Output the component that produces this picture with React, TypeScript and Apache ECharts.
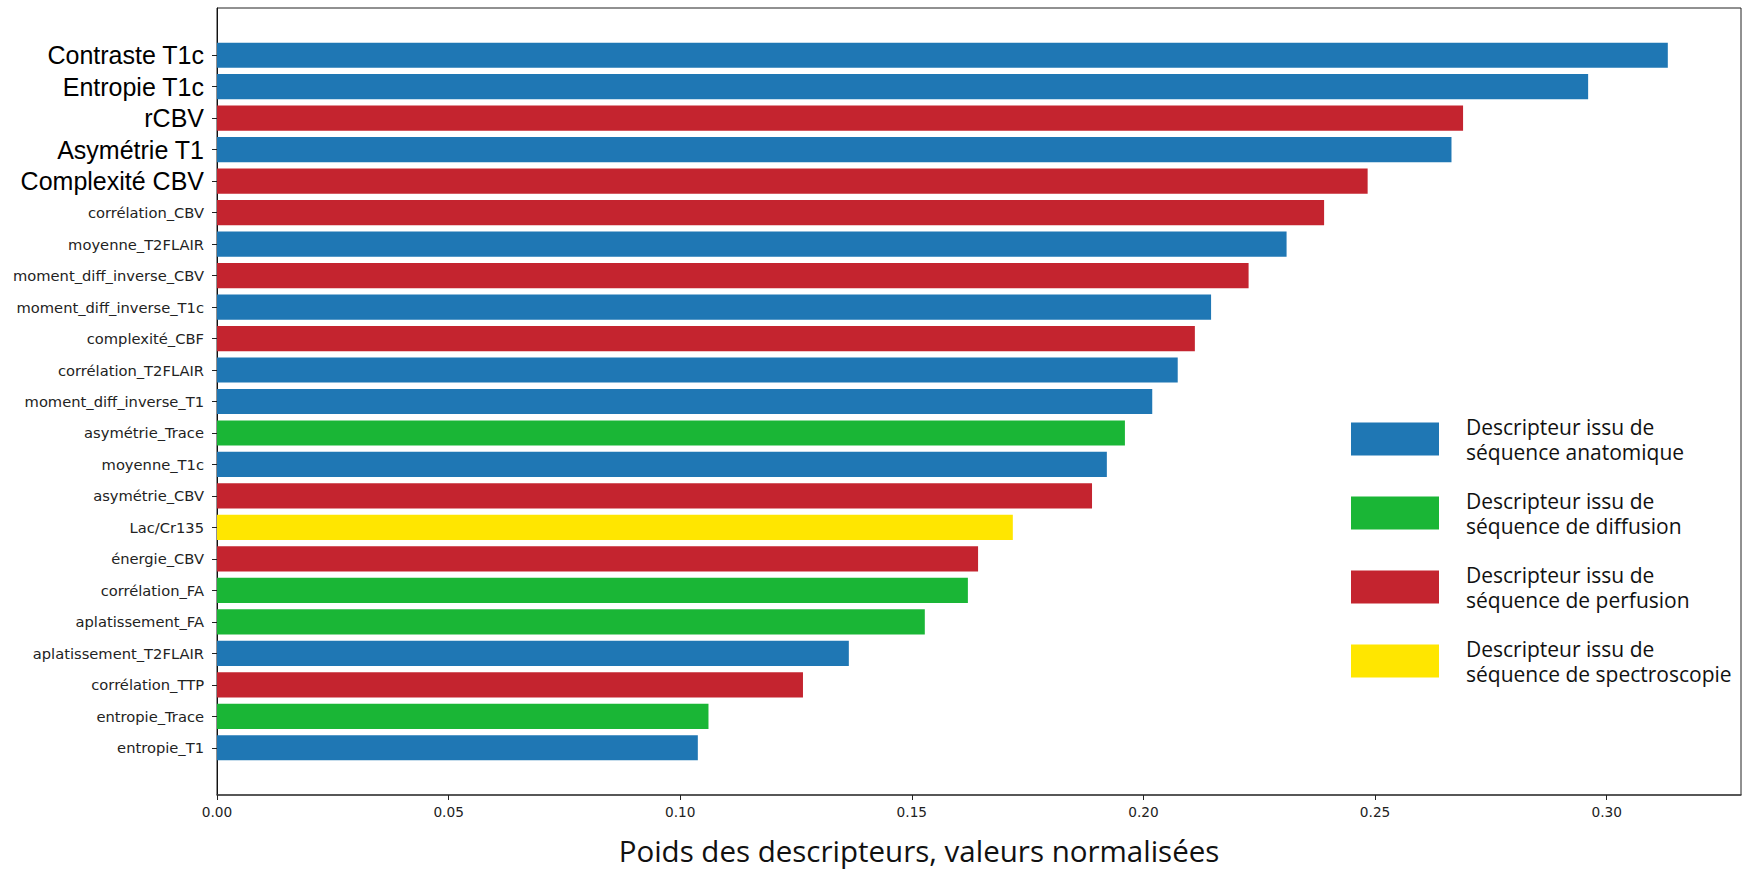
import React, { useEffect, useRef } from "react";
import * as echarts from "echarts";

const descriptors = [
  "Contraste T1c", "Entropie T1c", "rCBV", "Asymétrie T1", "Complexité CBV",
  "corrélation_CBV", "moyenne_T2FLAIR", "moment_diff_inverse_CBV", "moment_diff_inverse_T1c",
  "complexité_CBF", "corrélation_T2FLAIR", "moment_diff_inverse_T1", "asymétrie_Trace",
  "moyenne_T1c", "asymétrie_CBV", "Lac/Cr135", "énergie_CBV", "corrélation_FA",
  "aplatissement_FA", "aplatissement_T2FLAIR", "corrélation_TTP", "entropie_Trace", "entropie_T1",
];
const weights = [
  0.3132, 0.2960, 0.2690, 0.2665, 0.2484, 0.2390, 0.2309, 0.2227, 0.2146, 0.2111, 0.2074,
  0.2019, 0.1960, 0.1921, 0.1889, 0.1718, 0.1643, 0.1621, 0.1528, 0.1364, 0.1265, 0.1061, 0.1038,
];
const sequenceTypes = [
  "anat", "anat", "perf", "anat", "perf", "perf", "anat", "perf", "anat", "perf", "anat",
  "anat", "diff", "anat", "perf", "spec", "perf", "diff", "diff", "anat", "perf", "diff", "anat",
];
const highlightedCount = 5;
const groupKeys = ["anat", "diff", "perf", "spec"];
const groupNames = [
  "Descripteur issu de\nséquence anatomique",
  "Descripteur issu de\nséquence de diffusion",
  "Descripteur issu de\nséquence de perfusion",
  "Descripteur issu de\nséquence de spectroscopie",
];
const groupColors = ["#1f77b4", "#1ab636", "#c4242f", "#ffe600"];
const xTicks = [0, 0.05, 0.1, 0.15, 0.2, 0.25, 0.3];
const xTitle = "Poids des descripteurs, valeurs normalisées";

export default function App() {
  const ref = useRef<HTMLDivElement>(null);
  useEffect(() => {
    document.body.style.margin = "0";
    if (!ref.current) return;
    const chart = echarts.init(ref.current, undefined, { renderer: "svg" });
    const cats = [" ", ...descriptors, "  "];
    const isReal = (v: string) => v.trim() !== "";
    const series = groupKeys.map((k, gi) => ({
      name: groupNames[gi],
      type: "bar",
      barWidth: "80%",
      barGap: "-100%",
      itemStyle: { color: groupColors[gi] },
      data: [null, ...weights.map((w, i) => (sequenceTypes[i] === k ? w : null)), null],
    }));
    chart.setOption({
      animation: false,
      grid: { show: true, left: 217, right: 12, top: 8, bottom: 75, borderColor: "#222", borderWidth: 1 },
      xAxis: {
        type: "value",
        min: xTicks[0],
        max: 0.329,
        interval: 0.05,
        splitLine: { show: false },
        axisLine: { show: true, lineStyle: { color: "#444", width: 1.5 } },
        axisTick: { show: true, length: 5, lineStyle: { color: "#222" } },
        axisLabel: {
          showMaxLabel: false,
          margin: 10,
          fontSize: 13.7,
          color: "#222",
          fontFamily: "'DejaVu Sans', sans-serif",
          formatter: (v: number) => v.toFixed(2),
        },
      },
      yAxis: {
        type: "category",
        inverse: true,
        data: cats,
        axisLine: { show: true, lineStyle: { color: "#111" } },
        axisTick: {
          show: true,
          alignWithLabel: true,
          length: 5,
          lineStyle: { color: "#222" },
          interval: (_i: number, v: string) => isReal(v),
        },
        axisLabel: {
          margin: 13,
          interval: (_i: number, v: string) => isReal(v),
          formatter: (v: string, i: number) =>
            i >= 1 && i <= highlightedCount ? `{big|${v}}` : `{small|${v}}`,
          rich: {
            big: { fontFamily: "'Liberation Sans', Arial, sans-serif", fontSize: 25, color: "#000" },
            small: { fontFamily: "'DejaVu Sans', sans-serif", fontSize: 14.7, color: "#222" },
          },
        },
      },
      legend: {
        orient: "vertical",
        left: 1346,
        top: 409,
        padding: 5,
        itemWidth: 88,
        itemHeight: 33,
        itemGap: 24,
        icon: "rect",
        selectedMode: false,
        data: groupNames,
        textStyle: {
          fontFamily: "'Open Sans', sans-serif",
          fontSize: 21,
          lineHeight: 25,
          color: "#111",
          padding: [0, 0, 0, 22],
        },
      },
      graphic: [
        {
          type: "text",
          x: 919,
          y: 850,
          style: {
            text: xTitle,
            fontFamily: "'Open Sans', sans-serif",
            fontSize: 29.5,
            fill: "#111",
            align: "center",
            verticalAlign: "middle",
          },
        },
      ],
      series,
    });
    return () => chart.dispose();
  }, []);
  return <div ref={ref} style={{ width: 1753, height: 870 }} />;
}
